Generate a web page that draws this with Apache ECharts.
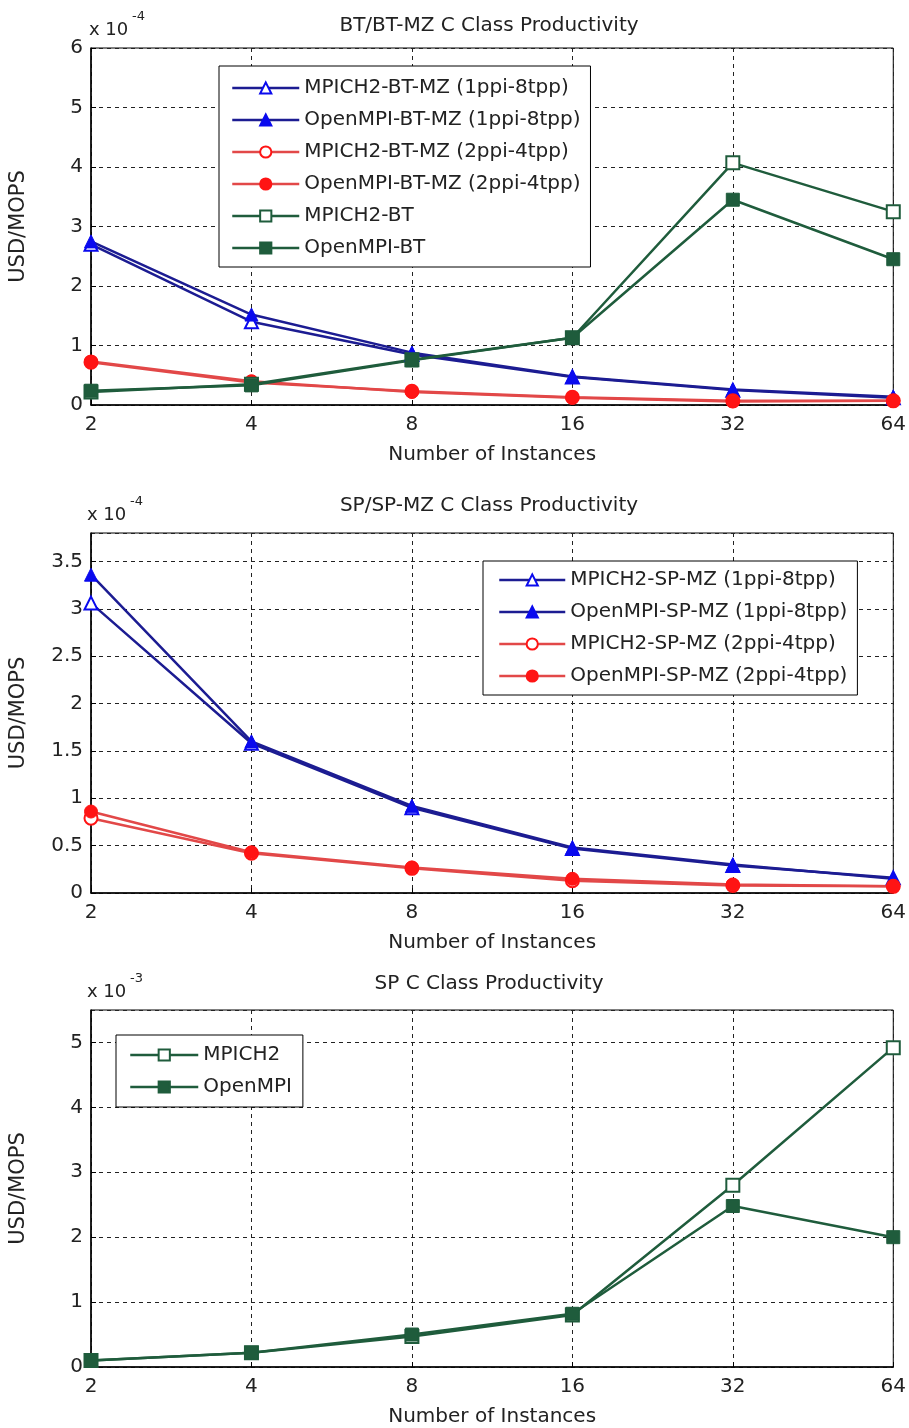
<!DOCTYPE html>
<html>
<head>
<meta charset="utf-8">
<script src="https://cdn.jsdelivr.net/npm/echarts@6/dist/echarts.min.js"></script>
<style>
html,body{margin:0;padding:0;background:#fff;}
#chart{width:909px;height:1428px;}
</style>
</head>
<body>
<div id="chart"></div>
<script>
// ---- data ----
const xCats = ['2', '4', '8', '16', '32', '64'];

// Chart 1: BT/BT-MZ (units of 1e-4 USD/MOPS)
const btMpichMz1 = [2.70, 1.40, 0.85, 0.47, 0.25, 0.12];
const btOpenMz1  = [2.75, 1.52, 0.88, 0.48, 0.26, 0.14];
const btMpichMz2 = [0.72, 0.38, 0.23, 0.13, 0.07, 0.07];
const btOpenMz2  = [0.73, 0.40, 0.22, 0.12, 0.06, 0.07];
const btMpich    = [0.22, 0.35, 0.76, 1.13, 4.07, 3.25];
const btOpen     = [0.24, 0.33, 0.75, 1.13, 3.45, 2.45];

// Chart 2: SP/SP-MZ (units of 1e-4)
const spMpichMz1 = [3.06, 1.58, 0.90, 0.47, 0.29, 0.16];
const spOpenMz1  = [3.36, 1.60, 0.92, 0.48, 0.30, 0.15];
const spMpichMz2 = [0.79, 0.42, 0.26, 0.13, 0.08, 0.07];
const spOpenMz2  = [0.86, 0.43, 0.27, 0.15, 0.09, 0.07];

// Chart 3: SP (units of 1e-3)
const spMpich = [0.10, 0.22, 0.47, 0.80, 2.80, 4.92];
const spOpen  = [0.10, 0.22, 0.50, 0.82, 2.48, 2.00];

const titles = ['BT/BT-MZ C Class Productivity', 'SP/SP-MZ C Class Productivity', 'SP C Class Productivity'];
const exponents = ['-4', '-4', '-3'];
const yLabel = 'USD/MOPS';
const xLabel = 'Number of Instances';

// ---- styling ----
const FONT = 'DejaVu Sans';
const BLUE_L = '#1c1c92', BLUE_M = '#0a0aee';
const RED_L = '#e24848', RED_M = '#ff1414';
const GREEN = '#1f5c3c';

const grids = [
  {left: 90, right: 13, top: 48, height: 357},
  {left: 88, right: 13, top: 533, height: 360},
  {left: 88, right: 12, top: 1010, height: 358}
];
const yRanges = [{max: 6, interval: 1}, {max: 3.8, interval: 0.5}, {max: 5.5, interval: 1}];
const titleY = [27, 507, 985];

const gridLine = {show: true, lineStyle: {color: '#222', type: [4, 4], width: 1}};

function mkSeries(name, data, idx, lineColor, markColor, symbol, open, size) {
  return {
    name: name, type: 'line', data: data,
    xAxisIndex: idx, yAxisIndex: idx,
    symbol: symbol, symbolSize: size,
    lineStyle: {color: lineColor, width: 2.5},
    itemStyle: open ? {color: '#ffffff', borderColor: markColor, borderWidth: 2}
                    : {color: markColor, borderColor: markColor, borderWidth: 1},
    emphasis: {disabled: true},
    animation: false
  };
}

const series = [
  mkSeries('MPICH2-BT-MZ (1ppi-8tpp)', btMpichMz1, 0, BLUE_L, BLUE_M, 'triangle', true, 13),
  mkSeries('OpenMPI-BT-MZ (1ppi-8tpp)', btOpenMz1, 0, BLUE_L, BLUE_M, 'triangle', false, 13),
  mkSeries('MPICH2-BT-MZ (2ppi-4tpp)', btMpichMz2, 0, RED_L, RED_M, 'circle', true, 13),
  mkSeries('OpenMPI-BT-MZ (2ppi-4tpp)', btOpenMz2, 0, RED_L, RED_M, 'circle', false, 13),
  mkSeries('MPICH2-BT', btMpich, 0, GREEN, GREEN, 'rect', true, 13),
  mkSeries('OpenMPI-BT', btOpen, 0, GREEN, GREEN, 'rect', false, 13),

  mkSeries('MPICH2-SP-MZ (1ppi-8tpp)', spMpichMz1, 1, BLUE_L, BLUE_M, 'triangle', true, 13),
  mkSeries('OpenMPI-SP-MZ (1ppi-8tpp)', spOpenMz1, 1, BLUE_L, BLUE_M, 'triangle', false, 13),
  mkSeries('MPICH2-SP-MZ (2ppi-4tpp)', spMpichMz2, 1, RED_L, RED_M, 'circle', true, 13),
  mkSeries('OpenMPI-SP-MZ (2ppi-4tpp)', spOpenMz2, 1, RED_L, RED_M, 'circle', false, 13),

  mkSeries('MPICH2', spMpich, 2, GREEN, GREEN, 'rect', true, 13),
  mkSeries('OpenMPI', spOpen, 2, GREEN, GREEN, 'rect', false, 13)
];

const legendText = {fontFamily: FONT, fontSize: 20, color: '#222', lineHeight: 20};
const legends = [
  {data: series.slice(0, 6).map(s => s.name), left: 219, top: 66, padding: [12, 10, 9, 12], itemWidth: 67},
  {data: series.slice(6, 10).map(s => s.name), left: 483, top: 561, padding: [9, 10, 9, 15], itemWidth: 66},
  {data: series.slice(10, 12).map(s => s.name), left: 116, top: 1035, padding: [10, 11, 10, 13], itemWidth: 68}
].map(l => Object.assign({
  orient: 'vertical', itemHeight: 14, itemGap: 12, selectedMode: false,
  backgroundColor: '#fff', borderColor: '#000', borderWidth: 1, borderRadius: 0,
  lineStyle: {width: 2.5},
  textStyle: legendText
}, l));

const option = {
  backgroundColor: '#fff',
  animation: false,
  title: titles.map((t, i) => ({
    text: t, left: 489, top: titleY[i] - 11, textAlign: 'center', padding: 0,
    textStyle: {fontFamily: FONT, fontSize: 20, fontWeight: 'normal', color: '#222'}
  })),
  grid: grids.map(g => Object.assign({show: true, borderColor: '#000', borderWidth: 1, backgroundColor: '#fff'}, g)),
  legend: legends,
  xAxis: grids.map((g, i) => ({
    type: 'category', gridIndex: i, data: xCats, boundaryGap: false,
    axisLine: {show: true, lineStyle: {color: '#000', width: 1.5}},
    axisTick: {show: true, inside: true, length: 5, lineStyle: {color: '#000'}},
    axisLabel: {fontFamily: FONT, fontSize: 20, color: '#222', margin: 10},
    splitLine: gridLine,
    name: xLabel, nameLocation: 'middle', nameGap: 40,
    nameTextStyle: {fontFamily: FONT, fontSize: 20, color: '#222'}
  })),
  yAxis: grids.map((g, i) => ({
    type: 'value', gridIndex: i, min: 0, max: yRanges[i].max, interval: yRanges[i].interval,
    axisLine: {show: true, lineStyle: {color: '#000', width: 1.5}},
    axisTick: {show: true, inside: true, length: 5, lineStyle: {color: '#000'}},
    axisLabel: {fontFamily: FONT, fontSize: 20, color: '#222', margin: 8, showMaxLabel: i === 0},
    splitLine: gridLine,
    name: yLabel, nameLocation: 'middle', nameGap: 62, nameRotate: 90,
    nameTextStyle: {fontFamily: FONT, fontSize: 21, color: '#222'}
  })),
  graphic: grids.flatMap((g, i) => [
    {type: 'text', left: g.left - 1, top: g.top - 27,
     style: {text: 'x 10', fontFamily: FONT, fontSize: 18, fill: '#222'}},
    {type: 'text', left: g.left + 42, top: g.top - 38,
     style: {text: exponents[i], fontFamily: FONT, fontSize: 13, fill: '#222'}}
  ]),
  series: series
};

const chart = echarts.init(document.getElementById('chart'), null, {renderer: 'canvas'});
chart.setOption(option);
</script>
</body>
</html>
